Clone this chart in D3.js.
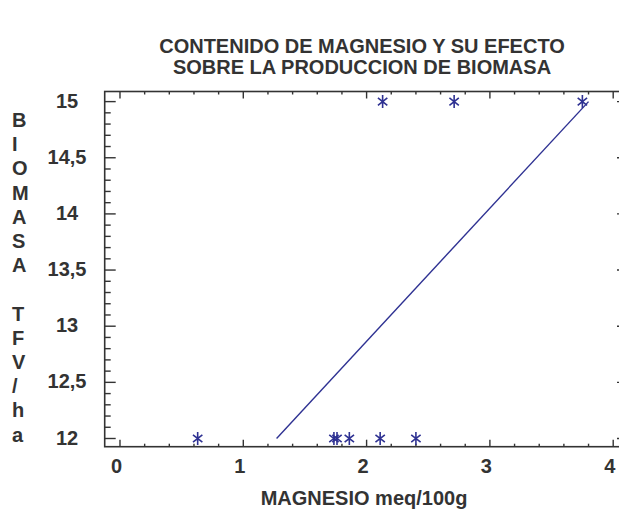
<!DOCTYPE html>
<html>
<head>
<meta charset="utf-8">
<script src="https://cdn.jsdelivr.net/npm/d3@7"></script>
<style>
  html, body { margin: 0; padding: 0; background: #fff; }
  text { font-family: "Liberation Sans", Arial, Helvetica, sans-serif; font-weight: bold; fill: #333; }
</style>
</head>
<body>
<svg id="chart" width="619" height="512"></svg>
<script>
// ---- data ----
const titleLines = ["CONTENIDO DE MAGNESIO Y SU EFECTO", "SOBRE LA PRODUCCION DE BIOMASA"];
const xLabel = "MAGNESIO meq/100g";
const yLabelLetters = ["B", "I", "O", "M", "A", "S", "A", "", "T", "F", "V", "/", "h", "a"];
const magnesio = [0.63, 1.735, 1.76, 1.86, 2.11, 2.40, 2.13, 2.71, 3.75];
const biomasa  = [12, 12, 12, 12, 12, 12, 15, 15, 15];
const fitX = [1.27, 3.80];
const fitY = [12, 15];
const xTicks = [0, 1, 2, 3, 4];
const yTicks = [12, 12.5, 13, 13.5, 14, 14.5, 15];
const yTickLabels = ["12", "12,5", "13", "13,5", "14", "14,5", "15"];

// ---- layout ----
const svg = d3.select("#chart");
const L = 104.7, R = 628, T = 91.5, B = 446.7;
const x = d3.scaleLinear().domain([-0.124, 4.12]).range([L, R]);
const y = d3.scaleLinear().domain([11.927, 15.09]).range([B, T]);
const ink = "#333";
const blue = "#2e3192";

// frame
svg.append("rect").attr("x", L).attr("y", T).attr("width", R - L).attr("height", B - T)
  .attr("fill", "none").attr("stroke", ink).attr("stroke-width", 1.6);

// x ticks (bottom and top, inward)
const xMinor = d3.range(0, 4.001, 0.2);
const xMaj = new Set(xTicks.map(v => v.toFixed(1)));
xMinor.forEach(v => {
  const len = xMaj.has(v.toFixed(1)) ? 7 : 3;
  svg.append("line").attr("x1", x(v)).attr("x2", x(v)).attr("y1", B).attr("y2", B - len)
    .attr("stroke", ink).attr("stroke-width", 1.4);
  svg.append("line").attr("x1", x(v)).attr("x2", x(v)).attr("y1", T).attr("y2", T + len)
    .attr("stroke", ink).attr("stroke-width", 1.4);
});
// y ticks (left and right, inward)
const yMinor = d3.range(12, 15.001, 0.1);
const yMaj = new Set(yTicks.map(v => v.toFixed(1)));
yMinor.forEach(v => {
  const len = yMaj.has(v.toFixed(1)) ? 11 : 6;
  svg.append("line").attr("x1", L).attr("x2", L + len).attr("y1", y(v)).attr("y2", y(v))
    .attr("stroke", ink).attr("stroke-width", 1.4);
  svg.append("line").attr("x1", R).attr("x2", R - len).attr("y1", y(v)).attr("y2", y(v))
    .attr("stroke", ink).attr("stroke-width", 1.4);
});

// tick labels
svg.append("g").selectAll("text").data(xTicks).join("text")
  .attr("x", d => x(d) - 3.5).attr("y", 473).attr("text-anchor", "middle")
  .attr("font-size", 20).text(d => d);
svg.append("g").selectAll("text").data(yTicks).join("text")
  .attr("x", 67).attr("y", d => y(d) + 6).attr("text-anchor", "middle")
  .attr("font-size", 20).text((d, i) => yTickLabels[i]);

// titles
svg.append("g").selectAll("text").data(titleLines).join("text")
  .attr("x", 362).attr("y", (d, i) => 53 + i * 21).attr("text-anchor", "middle")
  .attr("font-size", 20).text(d => d);
svg.append("text").attr("x", 364).attr("y", 505).attr("text-anchor", "middle")
  .attr("font-size", 20).text(xLabel);
svg.append("g").selectAll("text").data(yLabelLetters).join("text")
  .attr("x", 12).attr("y", (d, i) => 127 + i * 24.2).attr("font-size", 20).text(d => d);

// fitted line
svg.append("path").datum(fitX.map((v, i) => [v, fitY[i]]))
  .attr("d", d3.line().x(d => x(d[0])).y(d => y(d[1])))
  .attr("fill", "none").attr("stroke", blue).attr("stroke-width", 1.4);

// star markers
const star = "M0,-6.5L0,6.5M-4.7,-3.7L4.7,3.7M-4.7,3.7L4.7,-3.7";
svg.append("g").selectAll("path").data(magnesio).join("path")
  .attr("transform", (d, i) => `translate(${x(d)},${y(biomasa[i])})`)
  .attr("d", star).attr("fill", "none").attr("stroke", blue).attr("stroke-width", 1.6);
</script>
</body>
</html>
